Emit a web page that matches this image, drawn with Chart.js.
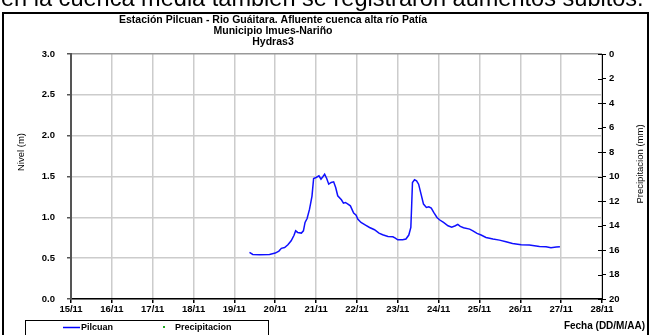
<!DOCTYPE html>
<html>
<head>
<meta charset="utf-8">
<style>
  html, body { margin: 0; padding: 0; background: #fff; }
  #wrap { width: 651px; height: 335px; overflow: hidden; }
</style>
<script src="https://cdn.jsdelivr.net/npm/chart.js@4.4.1/dist/chart.umd.min.js"></script>
</head>
<body>
<div id="wrap"><canvas id="nivelChart" width="651" height="335"></canvas></div>
<script>
// Fechas del eje X (un tick por día, desde 15/11)
const fechas = ["15/11", "16/11", "17/11", "18/11", "19/11", "20/11", "21/11",
                "22/11", "23/11", "24/11", "25/11", "26/11", "27/11", "28/11"];

// Tiempo en días contados desde 15/11 00:00
const dias = [4.37, 4.45, 4.62, 4.86, 5.00, 5.09, 5.15, 5.23, 5.31, 5.39, 5.46, 5.50,
              5.55, 5.64, 5.69, 5.73, 5.78, 5.84, 5.90, 5.94, 6.00, 6.07, 6.12, 6.17,
              6.21, 6.26, 6.31, 6.37, 6.43, 6.48, 6.53, 6.62, 6.67, 6.72, 6.78, 6.84,
              6.92, 6.98, 7.02, 7.10, 7.21, 7.31, 7.43, 7.54, 7.63, 7.76, 7.88, 7.94,
              8.00, 8.12, 8.20, 8.27, 8.32, 8.34, 8.36, 8.41, 8.46, 8.51, 8.57, 8.63,
              8.70, 8.76, 8.82, 8.88, 8.96, 9.02, 9.12, 9.23, 9.32, 9.41, 9.47, 9.53,
              9.61, 9.76, 9.84, 9.94, 10.04, 10.16, 10.33, 10.49, 10.65, 10.81, 11.02,
              11.22, 11.47, 11.63, 11.75, 11.88, 11.97];

// Nivel del río en la estación Pilcuan (m)
const nivelPilcuan = [0.57, 0.546, 0.542, 0.546, 0.562, 0.587, 0.62, 0.63, 0.664, 0.713, 0.78, 0.835,
                      0.815, 0.807, 0.835, 0.937, 0.986, 1.10, 1.26, 1.476, 1.488, 1.508, 1.467, 1.50,
                      1.529, 1.476, 1.406, 1.427, 1.435, 1.365, 1.264, 1.215, 1.174, 1.182, 1.162, 1.141,
                      1.052, 1.027, 0.978, 0.937, 0.905, 0.876, 0.848, 0.807, 0.787, 0.766, 0.762, 0.746,
                      0.725, 0.725, 0.734, 0.783, 0.876, 1.141, 1.427, 1.46, 1.447, 1.406, 1.284, 1.162,
                      1.121, 1.129, 1.113, 1.06, 0.999, 0.97, 0.937, 0.897, 0.88, 0.897, 0.913, 0.889,
                      0.872, 0.856, 0.835, 0.803, 0.783, 0.754, 0.734, 0.721, 0.70, 0.68, 0.664,
                      0.66, 0.644, 0.64, 0.628, 0.636, 0.64];

// Precipitación (mm): sin registros en el periodo
const precipitacion = [];

const titulo = [
  "Estación Pilcuan - Rio Guáitara. Afluente cuenca alta río Patía",
  "Municipio Imues-Nariño",
  "Hydras3"
];
const textoSuperior = "en la cuenca media también se registraron aumentos súbitos.";

const FONT = '"Liberation Sans", Arial, sans-serif';
const FONT_NARROW = '"Liberation Sans Narrow", "Arial Narrow", "Liberation Sans", Arial, sans-serif';

// Marco, títulos, leyenda y textos fuera del área del gráfico
const decoraciones = {
  id: "decoraciones",
  beforeDraw(chart) {
    const ctx = chart.ctx;
    ctx.save();
    ctx.fillStyle = "#fff";
    ctx.fillRect(0, 0, chart.width, chart.height);
    ctx.restore();
  },
  afterDraw(chart) {
    const ctx = chart.ctx;
    const area = chart.chartArea;
    const y2 = chart.scales.y2;
    ctx.save();

    // texto del documento que queda cortado arriba
    ctx.fillStyle = "#000";
    ctx.font = "18px " + FONT;
    const w = ctx.measureText(textoSuperior).width;
    ctx.font = (18 * 643 / w).toFixed(2) + "px " + FONT;
    ctx.textAlign = "left";
    ctx.textBaseline = "alphabetic";
    ctx.fillText(textoSuperior, 1, 6);

    // marco exterior
    ctx.strokeStyle = "#000";
    ctx.lineWidth = 2;
    ctx.strokeRect(3, 13, 645, 330);

    // título
    ctx.font = "bold 10.5px " + FONT;
    ctx.textAlign = "center";
    ctx.textBaseline = "middle";
    titulo.forEach((t, i) => ctx.fillText(t, 273, 20 + i * 11.2));

    // títulos de ejes
    ctx.font = "9.5px " + FONT_NARROW;
    ctx.save();
    ctx.translate(21, 152);
    ctx.rotate(-Math.PI / 2);
    ctx.fillText("Nivel (m)", 0, 0);
    ctx.restore();
    ctx.save();
    ctx.translate(640, 164);
    ctx.rotate(-Math.PI / 2);
    ctx.fillText("Precipitacion (mm)", 0, 0);
    ctx.restore();

    // ticks interiores del eje derecho
    ctx.strokeStyle = "#000";
    ctx.lineWidth = 1;
    y2.ticks.forEach(t => {
      const py = Math.round(y2.getPixelForValue(t.value)) + 0.5;
      ctx.beginPath();
      ctx.moveTo(area.right - 4, py);
      ctx.lineTo(area.right, py);
      ctx.stroke();
    });

    // leyenda
    ctx.strokeStyle = "#000";
    ctx.lineWidth = 1;
    ctx.strokeRect(25.5, 320.5, 243, 16);
    ctx.strokeStyle = "#0000ff";
    ctx.lineWidth = 1.5;
    ctx.beginPath();
    ctx.moveTo(63, 327.5);
    ctx.lineTo(80, 327.5);
    ctx.stroke();
    ctx.fillStyle = "#000";
    ctx.font = "bold 9px " + FONT;
    ctx.textAlign = "left";
    ctx.fillText("Pilcuan", 81, 328);
    ctx.fillStyle = "#22aa22";
    ctx.fillRect(163, 326, 2, 2);
    ctx.fillStyle = "#000";
    ctx.fillText("Precipitacion", 175, 328);

    // etiqueta del eje X
    ctx.font = "bold 10px " + FONT;
    ctx.textAlign = "right";
    ctx.fillText("Fecha (DD/M/AA)", 645, 326);

    ctx.restore();
  }
};

const ctx = document.getElementById("nivelChart").getContext("2d");
new Chart(ctx, {
  type: "line",
  data: {
    datasets: [{
      label: "Pilcuan",
      data: dias.map((d, i) => ({ x: d, y: nivelPilcuan[i] })),
      borderColor: "#1010ff",
      borderWidth: 1.5,
      pointRadius: 0,
      tension: 0,
      yAxisID: "y"
    }, {
      label: "Precipitacion",
      data: precipitacion,
      borderColor: "#22aa22",
      backgroundColor: "#22aa22",
      showLine: false,
      pointRadius: 1,
      yAxisID: "y2"
    }]
  },
  options: {
    responsive: false,
    animation: false,
    layout: { padding: { top: 54, left: 0, right: 0, bottom: 0 } },
    plugins: {
      legend: { display: false },
      title: { display: false },
      tooltip: { enabled: false }
    },
    scales: {
      x: {
        type: "linear",
        min: 0,
        max: 13,
        afterFit: s => { s.height = 36; },
        afterBuildTicks: s => { s.ticks = fechas.map((f, i) => ({ value: i })); },
        ticks: {
          autoSkip: false,
          maxRotation: 0,
          padding: 1,
          color: "#000",
          font: { family: FONT, size: 9.5, weight: "bold" },
          callback: v => fechas[v]
        },
        grid: { color: "#cccccc", lineWidth: 1.5, tickLength: 4, tickColor: "#000" },
        border: { color: "#000", width: 1.5 }
      },
      y: {
        position: "left",
        min: 0,
        max: 3,
        afterFit: s => { s.width = 71; },
        ticks: {
          stepSize: 0.5,
          padding: 12,
          color: "#000",
          font: { family: FONT, size: 9.5, weight: "bold" },
          callback: v => v.toFixed(1)
        },
        grid: {
          color: c => (c.tick && c.tick.value === 3 ? "#999999" : "#cccccc"),
          lineWidth: 1.5,
          tickLength: 4,
          tickColor: "#555"
        },
        border: { color: "#555", width: 2 }
      },
      y2: {
        position: "right",
        min: 0,
        max: 20,
        reverse: true,
        afterFit: s => { s.width = 49; },
        ticks: {
          stepSize: 2,
          padding: 3,
          color: "#000",
          font: { family: FONT, size: 9.5, weight: "bold" }
        },
        grid: { drawOnChartArea: false, tickLength: 4, tickColor: "#000", lineWidth: 1 },
        border: { color: "#000", width: 1 }
      }
    }
  },
  plugins: [decoraciones]
});
</script>
</body>
</html>
